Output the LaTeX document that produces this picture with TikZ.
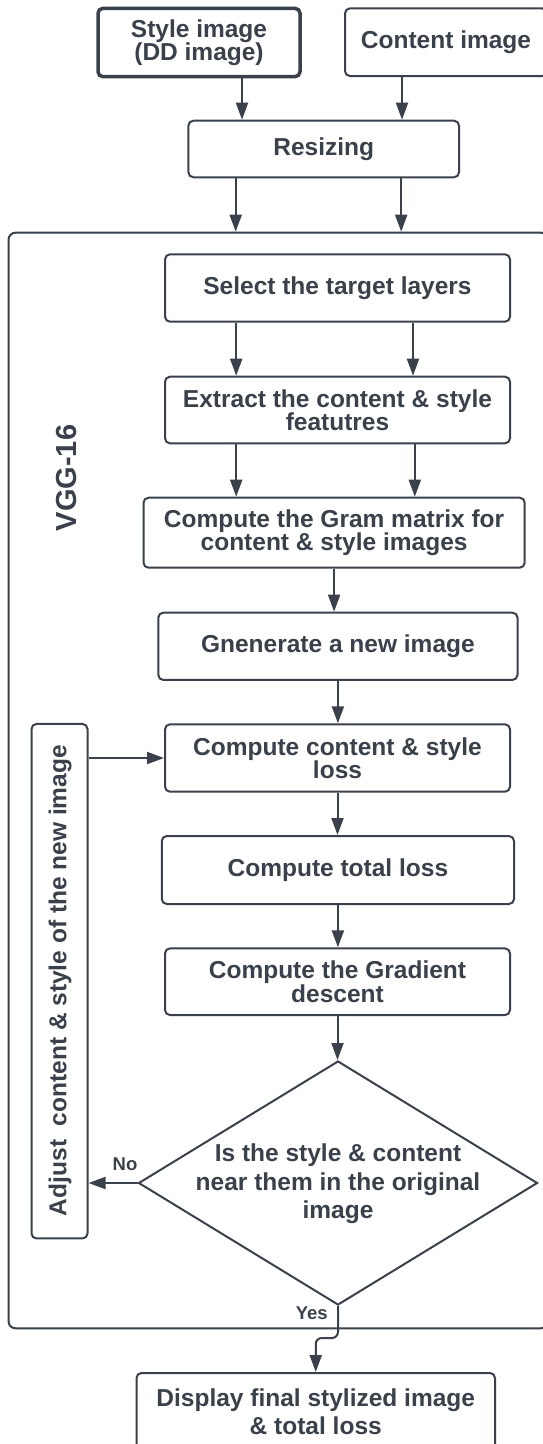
\documentclass[tikz,border=0pt]{standalone}
\usepackage{fontspec}
\setmainfont{Liberation Sans}
\usetikzlibrary{arrows.meta,shapes.geometric,calc}
\definecolor{ink}{RGB}{58,65,75}
\newcommand\boxfont{\fontsize{24.5}{23.4}\selectfont\bfseries}
\newcommand\widefont{\fontsize{24.5}{28.3}\selectfont\bfseries}
\newcommand\lblfont{\fontsize{18.5}{20}\selectfont\bfseries}
\newcommand\vggfont{\fontsize{29}{30}\selectfont\bfseries}
\tikzset{
  box/.style={draw=ink, line width=2pt, rounded corners=5pt, fill=white, align=center, inner sep=0pt, text=ink, font=\boxfont},
  frame/.style={draw=ink, line width=2pt, rounded corners=7pt, inner sep=0pt},
  decision/.style={draw=ink, line width=2pt, diamond, fill=white, inner sep=0pt},
  arr/.style={draw=ink, line width=2pt, -{Triangle[length=17pt,width=12pt]}},
  lbl/.style={text=ink, font=\lblfont, inner sep=0pt},
  plain/.style={text=ink, inner sep=0pt, align=center},
}
\begin{document}
\begin{tikzpicture}[x=1pt,y=-1pt]
\useasboundingbox (0,0) rectangle (542,1444);
% container
\node[frame, minimum width=539.5pt, minimum height=1095.6pt] (frame) at (278.25,780.5) {};
\node[plain, font=\vggfont, rotate=90] (vgg) at (67,478) {VGG-16};
% top boxes
\node[box, line width=3.5pt, minimum width=202pt, minimum height=68.4pt] (style) at (199,42.5) {Style image\\(DD image)};
\node[box, minimum width=202pt, minimum height=67.7pt] (content) at (446,42.2) {Content image};
\node[box, minimum width=270.6pt, minimum height=56.6pt] (resize) at (323.7,149) {Resizing};
% inner boxes
\node[box, minimum width=345pt, minimum height=67.4pt] (select) at (337.5,288) {Select the target layers};
\node[box, minimum width=345pt, minimum height=66.6pt] (extract) at (337.5,410) {Extract the content \& style\\featutres};
\node[box, minimum width=381.2pt, minimum height=70pt] (gram) at (334.1,532.7) {Compute the Gram matrix for\\content \& style images};
\node[box, minimum width=359.2pt, minimum height=67.3pt] (generate) at (337.9,646.3) {Gnenerate a new image};
\node[box, minimum width=345pt, minimum height=67.4pt] (closs) at (337.5,758) {Compute content \& style\\loss};
\node[box, minimum width=352.2pt, minimum height=68pt] (total) at (337.9,870) {Compute total loss};
\node[box, minimum width=345pt, minimum height=66.7pt] (grad) at (337.5,981.7) {Compute the Gradient\\descent};
\node[decision, minimum width=399pt, minimum height=244pt] (dia) at (338,1183) {};
\node[plain, font=\widefont] (diatext) at (338,1184) {Is the style \& content\\near them in the original\\image};
\node[box, minimum width=56pt, minimum height=514.5pt] (adj) at (59.5,981.2) {};
\node[plain, font=\boxfont, rotate=90] (adjtext) at (60,980.5) {Adjust\ \ content \& style of the new image};
\node[box, font=\widefont, minimum width=358.5pt, minimum height=78pt] (disp) at (315.75,1412) {Display final stylized image\\\& total loss};
% labels
\node[lbl] (no) at (125,1164) {No};
\node[lbl] (yes) at (311.7,1313) {Yes};
% connectors
\draw[arr] ([xshift=43pt]style.south) -- ([xshift=43pt]style.south |- resize.north);
\draw[arr] ([xshift=-44pt]content.south) -- ([xshift=-44pt]content.south |- resize.north);
\draw[arr] ([xshift=-88pt]resize.south) -- ([xshift=-88pt]resize.south |- frame.north);
\draw[arr] ([xshift=77.5pt]resize.south) -- ([xshift=77.5pt]resize.south |- frame.north);
\draw[arr] ([xshift=-101.3pt]select.south) -- ([xshift=-101.3pt]select.south |- extract.north);
\draw[arr] ([xshift=75.5pt]select.south) -- ([xshift=75.5pt]select.south |- extract.north);
\draw[arr] ([xshift=-101.3pt]extract.south) -- ([xshift=-101.3pt]extract.south |- gram.north);
\draw[arr] ([xshift=77.3pt]extract.south) -- ([xshift=77.3pt]extract.south |- gram.north);
\draw[arr] (gram.south) -- (gram.south |- generate.north);
\draw[arr] (generate.south) -- (generate.south |- closs.north);
\draw[arr] (closs.south) -- (closs.south |- total.north);
\draw[arr] (total.south) -- (total.south |- grad.north);
\draw[arr] (grad.south) -- (grad.south |- dia.north);
\draw[arr] (adj.east |- closs.west) -- (closs.west);
\draw[arr] (dia.west) -- (dia.west -| adj.east);
\coordinate (ym) at (327,1338);
\draw[arr, rounded corners=6pt] (dia.south) |- (ym) -| (disp.north);
\end{tikzpicture}
\end{document}
